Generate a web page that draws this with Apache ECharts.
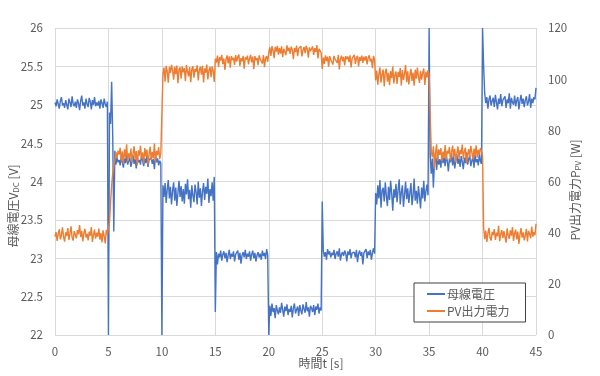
<!DOCTYPE html>
<html>
<head>
<meta charset="utf-8">
<script src="https://cdn.jsdelivr.net/npm/echarts@6/dist/echarts.min.js"></script>
<style>
  html, body { margin: 0; padding: 0; background: #fff; }
  #main { width: 600px; height: 376px; }
</style>
</head>
<body>
<div id="main"></div>
<script>
// 0.1 s sampling, t = 0 .. 45 s
var dt = 0.1;

// 母線電圧 [V] (left axis), one row = 1 s
var busVoltage = [
  25.03,24.98,25.07,25.01,24.95,25.05,25.10,24.99,25.02,24.96,
  25.06,25.00,24.94,25.08,25.03,24.97,25.11,25.01,24.98,25.04,
  24.96,25.07,25.02,24.93,25.05,25.12,24.99,25.03,24.95,25.08,
  25.01,24.97,25.09,25.04,24.94,25.06,25.00,25.10,24.98,25.03,
  24.99,25.05,24.95,25.07,25.02,24.96,25.08,25.01,24.97,25.04,
  22.00,24.90,24.75,25.30,24.60,23.35,24.40,24.22,24.31,24.25,
  24.28,24.21,24.33,24.25,24.18,24.30,24.24,24.35,24.22,24.27,
  24.31,24.19,24.26,24.34,24.23,24.29,24.17,24.32,24.25,24.28,
  24.22,24.36,24.27,24.20,24.30,24.24,24.33,24.19,24.28,24.26,
  24.31,24.23,24.29,24.16,24.34,24.25,24.30,24.21,24.27,24.24,
  22.00,23.95,23.80,23.98,23.72,23.90,24.02,23.78,23.93,23.70,
  23.88,23.99,23.75,23.92,23.68,23.85,24.01,23.80,23.94,23.74,
  23.90,23.71,23.97,23.83,24.03,23.77,23.89,23.66,23.95,23.82,
  23.73,23.96,23.86,23.70,24.00,23.79,23.91,23.68,23.87,23.98,
  23.76,23.93,23.84,24.04,23.72,23.90,23.81,23.99,23.75,24.06,
  22.30,23.08,22.92,23.06,23.01,23.10,22.97,23.05,23.09,23.00,
  23.07,22.95,23.04,23.11,22.99,23.06,23.02,23.09,22.96,23.05,
  23.03,23.10,22.98,23.07,22.93,23.04,23.08,23.01,23.11,22.99,
  23.06,23.02,23.09,22.97,23.05,23.10,23.00,23.07,22.96,23.04,
  23.08,23.01,23.06,22.98,23.10,23.03,23.07,22.99,23.12,23.04,
  22.00,22.38,22.25,22.41,22.30,22.35,22.22,22.39,22.32,22.27,
  22.36,22.29,22.42,22.33,22.24,22.37,22.31,22.40,22.26,22.34,
  22.30,22.38,22.23,22.35,22.41,22.28,22.33,22.37,22.25,22.39,
  22.32,22.27,22.40,22.34,22.29,22.43,22.31,22.36,22.24,22.38,
  22.35,22.30,22.39,22.26,22.37,22.33,22.41,22.28,22.36,22.32,
  23.74,23.10,23.02,23.08,22.98,23.12,23.05,23.09,23.01,23.07,
  23.04,23.11,22.99,23.06,23.09,23.02,23.13,22.97,23.05,23.08,
  23.03,23.10,23.06,22.96,23.09,23.04,23.12,23.00,23.07,23.05,
  23.08,23.01,23.11,22.95,23.06,23.10,23.03,23.08,22.92,23.07,
  23.05,23.12,23.00,23.09,23.04,23.11,22.98,23.07,23.13,23.06,
  23.85,23.70,23.95,23.78,24.02,23.66,23.88,23.92,23.74,23.99,
  23.81,23.68,23.93,23.76,24.01,23.84,23.62,23.90,23.79,23.97,
  23.73,23.89,24.03,23.70,23.86,23.95,23.67,23.83,24.00,23.77,
  23.91,23.72,23.85,23.98,23.69,23.82,24.04,23.75,23.88,23.71,
  23.94,23.80,23.65,23.92,23.78,24.01,23.74,23.87,23.96,23.82,
  26.00,24.35,24.10,24.30,23.92,24.26,24.38,24.15,24.32,24.22,
  24.29,24.18,24.36,24.24,24.31,24.20,24.34,24.27,24.13,24.30,
  24.25,24.37,24.21,24.32,24.17,24.28,24.35,24.23,24.30,24.19,
  24.33,24.26,24.16,24.31,24.24,24.38,24.22,24.29,24.34,24.20,
  24.27,24.32,24.18,24.35,24.25,24.29,24.21,24.36,24.26,24.23,
  26.00,25.50,25.15,25.02,25.10,24.95,25.07,25.12,24.99,25.05,
  25.09,24.97,25.13,25.03,24.94,25.08,25.01,25.14,24.98,25.06,
  25.04,25.11,24.96,25.07,25.02,25.15,24.95,25.09,25.03,25.00,
  25.12,24.98,25.06,25.10,24.94,25.05,25.13,25.01,25.08,24.97,
  25.06,25.11,24.99,25.04,25.14,24.96,25.08,25.02,25.10,25.07,
  25.22
];

// PV出力電力 [W] (right axis), one row = 1 s
var pvPower = [
  38.5,40.2,36.8,39.6,41.3,37.4,39.0,42.1,38.2,36.5,
  40.1,38.7,41.8,37.2,39.5,42.5,38.0,36.9,40.6,39.2,
  37.8,41.0,39.4,43.0,38.3,40.7,36.6,39.9,41.5,38.1,
  39.6,37.0,40.4,38.8,42.2,36.4,39.1,41.2,37.7,40.0,
  38.4,41.6,37.3,39.8,36.2,40.9,38.6,35.8,41.1,39.3,
  39.0,44.0,52.0,58.5,63.0,66.0,68.5,71.5,69.0,72.0,
  70.5,73.2,68.1,71.8,66.9,72.6,69.4,74.5,67.8,71.0,
  69.2,72.9,67.5,70.8,73.8,68.6,71.9,66.4,72.2,70.1,
  74.0,68.9,71.4,67.2,73.1,69.8,72.5,66.7,70.6,73.6,
  68.3,71.6,69.0,74.8,67.6,72.0,70.3,73.4,68.7,71.2,
  71.0,102.0,104.5,99.0,105.2,103.1,98.6,104.8,102.4,105.6,
  103.5,99.8,104.9,102.0,105.3,98.4,103.8,104.6,100.2,105.0,
  102.7,104.3,99.2,105.5,103.0,101.1,104.7,98.8,103.9,105.1,
  100.6,104.0,102.9,105.4,99.5,103.6,104.9,101.8,105.2,98.7,
  104.2,102.5,105.7,99.9,103.4,104.8,100.8,105.0,103.2,98.9,
  108.0,106.5,109.2,104.8,108.6,107.3,109.5,105.9,108.1,103.6,
  107.8,109.3,106.2,108.9,104.5,109.0,107.5,108.4,105.6,109.4,
  106.9,108.7,109.6,105.2,108.2,107.0,109.1,104.1,108.5,107.7,
  109.2,105.8,108.0,109.5,106.6,108.8,103.9,109.0,107.4,108.3,
  105.5,109.3,107.9,108.6,106.1,109.4,104.7,108.2,109.0,106.8,
  110.5,112.4,109.1,112.9,111.3,108.2,112.6,110.8,113.0,109.6,
  112.1,110.0,112.8,108.6,111.9,112.5,109.4,113.2,111.0,112.3,
  109.9,112.7,111.5,107.8,112.2,110.6,113.1,109.0,112.0,111.7,
  112.9,108.9,111.4,112.6,110.2,113.0,111.8,108.4,112.4,110.9,
  111.6,112.8,109.5,112.1,110.7,113.3,108.1,111.9,112.5,110.3,
  104.0,108.4,106.0,109.3,107.1,108.8,104.9,109.0,107.6,108.2,
  105.7,109.1,107.9,108.5,106.3,109.4,103.8,108.0,109.2,107.0,
  108.7,105.4,109.0,107.8,108.9,106.7,109.3,104.6,108.1,107.4,
  109.5,106.0,108.3,109.1,105.0,108.6,107.2,109.2,106.4,108.8,
  107.3,109.0,105.8,108.4,109.3,106.9,108.0,104.3,109.1,107.6,
  99.5,103.4,97.8,102.1,104.6,98.6,101.9,103.8,97.2,102.7,
  104.1,99.0,102.5,97.6,103.2,100.4,104.9,98.3,101.6,103.0,
  98.1,102.8,100.9,104.3,97.5,103.6,99.7,102.2,105.5,98.8,
  103.1,97.9,101.4,104.0,99.3,102.6,97.4,103.7,100.2,104.5,
  101.0,98.5,103.3,99.8,102.4,104.2,97.7,102.9,100.6,103.5,
  101.5,86.0,72.0,69.5,73.8,65.0,71.2,74.5,68.0,72.6,
  70.4,73.1,67.9,71.7,69.2,74.2,68.5,72.0,70.9,73.5,
  68.2,71.5,74.0,69.6,72.8,67.4,71.1,73.7,69.0,72.3,
  70.7,74.4,68.8,71.9,73.2,67.1,70.2,72.7,69.5,73.9,
  71.4,68.6,72.9,70.0,74.1,69.3,72.4,70.6,73.0,71.8,
  70.0,42.0,37.5,40.8,36.4,39.7,41.9,38.0,36.9,40.3,
  39.1,41.4,37.2,40.0,38.6,42.7,36.7,39.4,41.0,37.9,
  40.6,38.3,36.1,41.7,39.0,37.6,40.9,38.8,42.2,36.8,
  39.8,41.2,37.4,40.4,35.6,39.2,41.8,38.1,40.1,37.0,
  38.9,41.5,36.6,40.7,39.5,37.8,42.4,38.4,40.2,39.0,
  43.5
];

var seriesNames = ['母線電圧', 'PV出力電力'];

function withTime(arr) {
  return arr.map(function (v, i) { return [+(i * dt).toFixed(1), v]; });
}

var font = "'Noto Sans CJK JP', 'Noto Sans', sans-serif";
var gray = '#595959';
var gridColor = '#d9d9d9';

var myChart = echarts.init(document.getElementById('main'));
var option = {
  animation: false,
  textStyle: { fontFamily: font },
  grid: { left: 55, right: 64, top: 28, bottom: 41 },
  legend: {
    orient: 'vertical',
    left: 414,
    top: 283,
    padding: [5, 16, 5, 13],
    itemGap: 5,
    itemWidth: 18,
    itemHeight: 2,
    icon: 'rect',
    borderColor: '#404040',
    borderWidth: 1,
    backgroundColor: '#fff',
    textStyle: { color: gray, fontSize: 12, fontFamily: font, padding: [0, 0, 0, -3] },
    data: seriesNames
  },
  xAxis: {
    type: 'value',
    min: 0, max: 45, interval: 5,
    axisLine: { show: false },
    axisTick: { show: false },
    axisLabel: { color: gray, fontSize: 11.5, margin: 11 },
    splitLine: { lineStyle: { color: gridColor } }
  },
  yAxis: [
    {
      type: 'value',
      min: 22, max: 26, interval: 0.5,
      axisLine: { show: false },
      axisTick: { show: false },
      axisLabel: { color: gray, fontSize: 11.5, margin: 12 },
      splitLine: { lineStyle: { color: gridColor } }
    },
    {
      type: 'value',
      min: 0, max: 120, interval: 20,
      position: 'right',
      axisLine: { show: false },
      axisTick: { show: false },
      axisLabel: { color: gray, fontSize: 11.5, margin: 12 },
      splitLine: { show: false }
    }
  ],
  graphic: [
    {
      type: 'text', x: 321, y: 363,
      style: { text: '時間t [s]', fill: gray, font: '12px ' + font, align: 'center', verticalAlign: 'middle' }
    },
    {
      type: 'text', x: 13, y: 206, rotation: Math.PI / 2,
      style: {
        text: '母線電圧V{s|DC} [V]', fill: gray, font: '12px ' + font,
        align: 'center', verticalAlign: 'middle',
        rich: { s: { fontSize: 8, fill: gray, padding: [5, 0, 0, 0], fontFamily: font } }
      }
    },
    {
      type: 'text', x: 575, y: 190, rotation: Math.PI / 2,
      style: {
        text: 'PV出力電力P{s|PV} [W]', fill: gray, font: '12px ' + font,
        align: 'center', verticalAlign: 'middle',
        rich: { s: { fontSize: 8, fill: gray, padding: [5, 0, 0, 0], fontFamily: font } }
      }
    }
  ],
  series: [
    {
      name: seriesNames[0],
      type: 'line',
      yAxisIndex: 0,
      showSymbol: false,
      symbol: 'none',
      lineStyle: { color: '#4472C4', width: 1.4 },
      itemStyle: { color: '#4472C4' },
      data: withTime(busVoltage)
    },
    {
      name: seriesNames[1],
      type: 'line',
      yAxisIndex: 1,
      showSymbol: false,
      symbol: 'none',
      lineStyle: { color: '#ED7D31', width: 1.4 },
      itemStyle: { color: '#ED7D31' },
      data: withTime(pvPower)
    }
  ]
};
myChart.setOption(option);
</script>
</body>
</html>
